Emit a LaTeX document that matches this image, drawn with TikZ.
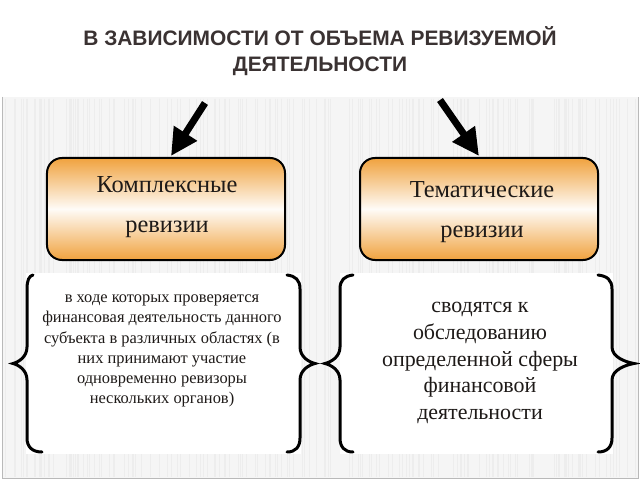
\documentclass[tikz,border=0pt]{standalone}
\usepackage{fontspec}
\setmainfont{Liberation Serif}
\newfontfamily\titlefont{Liberation Sans}
\usetikzlibrary{arrows.meta}
\definecolor{titlecol}{HTML}{3A3232}
\definecolor{panelbg}{HTML}{F5F5F5}
\definecolor{stripe}{HTML}{EDEDED}
\definecolor{boxorange}{HTML}{F0A23E}
\definecolor{txtcol}{HTML}{1E1A18}
\newcommand\curly[4]{\draw[bracepen] (#3,275) .. controls ({#1+0.35*(#3-#1)},276) and (#1,280) .. (#1,289) -- (#1,347) .. controls (#1,357) and ({#2+0.4*(#1-#2)},362) .. (#2,363.5) .. controls ({#2+0.4*(#1-#2)},365) and (#1,370) .. (#1,380) -- (#1,438) .. controls (#1,447) and ({#1+0.35*(#4-#1)},452) .. (#4,452);}
\begin{document}
\begin{tikzpicture}[x=1bp,y=-1bp,
  titlestyle/.style={font=\titlefont\bfseries\fontsize{21}{25.5}\selectfont, text=titlecol, align=center, inner sep=0},
  rbox/.style={draw=black, line width=2bp, rounded corners=15bp, minimum width=238bp, minimum height=102bp,
    top color=boxorange, bottom color=boxorange, middle color=white!96!boxorange, inner sep=0},
  boxtext/.style={font=\fontsize{24.5}{40}\selectfont, text=txtcol, align=center, inner sep=0},
  smalltext/.style={font=\fontsize{16.5}{20.2}\selectfont, text=txtcol, align=center, inner sep=0},
  bigtext/.style={font=\fontsize{22}{26.7}\selectfont, text=txtcol, align=center, inner sep=0},
  bracepen/.style={line width=3bp, black, line cap=round},
  bigarrow/.style={line width=7bp, -{Triangle[length=27bp,width=26bp]}, black}]
\useasboundingbox (0,0) rectangle (640,480);
\fill[white] (0,0) rectangle (640,480);
% panel
\fill[panelbg] (2,97) rectangle (638,478);
\pgfmathsetseed{7}
\foreach \i in {0,...,160}{
  \pgfmathsetmacro\xx{3+rnd*634}
  \draw[stripe, line width=0.7bp] (\xx,99) -- (\xx,477);
}
\draw[gray!55, line width=1bp] (2,97) -- (2,478) -- (638,478) -- (638,97);
% white areas behind braces
\fill[white] (26,273) rectangle (301,454);
\fill[white] (340,273) rectangle (613,454);
% title
\node[titlestyle] (title) at (320,51) {В ЗАВИСИМОСТИ ОТ ОБЪЕМА РЕВИЗУЕМОЙ\\ДЕЯТЕЛЬНОСТИ};
% boxes
\node[rbox] (kbox) at (166,209) {};
\node[rbox] (tbox) at (479,209) {};
\node[boxtext] (ktxt) at (167,207) {Комплексные\\ревизии};
\node[boxtext] (ttxt) at (482,212) {Тематические\\ревизии};
% arrows
\coordinate (a1) at (205,103);
\coordinate (h1) at (171,156);
\coordinate (a2) at (440,100);
\coordinate (h2) at (479,156);
\draw[bigarrow] (a1) -- (h1);
\draw[bigarrow] (a2) -- (h2);
% braces
\curly{27}{13}{33}{42}
\curly{300}{315}{287}{287}
\curly{340}{325}{353}{353}
\curly{612}{634}{598}{598}
% brace texts
\node[smalltext] (ltxt) at (162,351) {в ходе которых проверяется\\финансовая деятельность данного\\субъекта в различных областях (в\\них принимают участие\\одновременно ревизоры\\нескольких органов)};
\node[bigtext] (rtxt) at (480,363) {сводятся к\\обследованию\\определенной сферы\\финансовой\\деятельности};
\end{tikzpicture}
\end{document}
